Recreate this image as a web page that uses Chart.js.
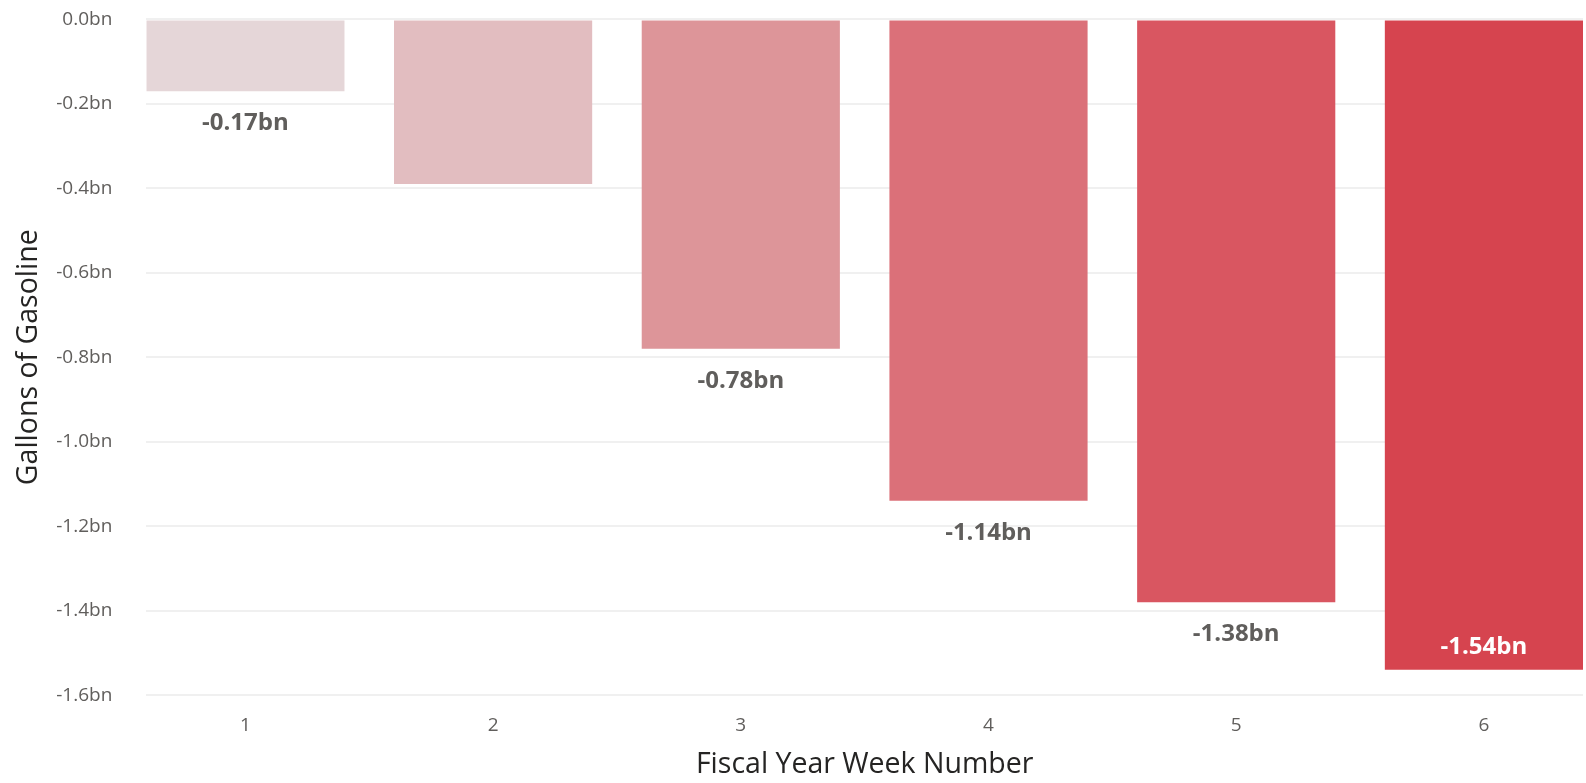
<!DOCTYPE html>
<html>
<head>
<meta charset="utf-8">
<script src="https://cdn.jsdelivr.net/npm/chart.js@4"></script>
<style>
  html, body { margin: 0; padding: 0; background: #fff; }
  #wrap { width: 1586px; height: 783px; position: relative; }
</style>
</head>
<body>
<div id="wrap"><canvas id="gasChart"></canvas></div>
<script>
var weekLabels = ['1', '2', '3', '4', '5', '6'];
var gallonsBn = [-0.17, -0.39, -0.78, -1.14, -1.38, -1.54];
var barColors = ['#E5D6D8', '#E2BDC0', '#DD9599', '#DB7079', '#D95661', '#D6444F'];
var valueLabels = ['-0.17bn', '', '-0.78bn', '-1.14bn', '-1.38bn', '-1.54bn'];
var labelInside = [false, false, false, false, false, true];
var yTicks = [0, -0.2, -0.4, -0.6, -0.8, -1.0, -1.2, -1.4, -1.6];

var fontFamily = "'Open Sans', 'Noto Sans', sans-serif";

// draws the bold value labels under (or inside) each bar
var valueLabelPlugin = {
  id: 'valueLabels',
  afterDatasetsDraw: function (chart) {
    var ctx = chart.ctx;
    var meta = chart.getDatasetMeta(0);
    ctx.save();
    ctx.font = 'bold 24px ' + fontFamily;
    ctx.textAlign = 'center';
    ctx.textBaseline = 'middle';
    meta.data.forEach(function (bar, i) {
      if (!valueLabels[i]) return;
      if (labelInside[i]) {
        ctx.fillStyle = '#FFFFFF';
        ctx.fillText(valueLabels[i], bar.x, bar.y - 23);
      } else {
        ctx.fillStyle = '#605E5C';
        ctx.fillText(valueLabels[i], bar.x, bar.y + 32);
      }
    });
    ctx.restore();
  }
};

var points = [];
for (let i = 0; i < weekLabels.length; i++) {
  points.push({ x: i + 1, y: gallonsBn[i] });
}

var ctx = document.getElementById('gasChart');
var chart = new Chart(ctx, {
  type: 'bar',
  data: {
    datasets: [{
      data: points,
      backgroundColor: barColors,
      borderWidth: 0,
      barPercentage: 0.8,
      categoryPercentage: 1.0
    }]
  },
  options: {
    responsive: true,
    maintainAspectRatio: false,
    animation: false,
    layout: { padding: { top: 0, right: 3, left: 12, bottom: 2 } },
    plugins: {
      legend: { display: false },
      tooltip: { enabled: false }
    },
    scales: {
      x: {
        type: 'linear',
        min: 0.6,
        max: 6.4,
        offset: false,
        grid: { display: false, drawTicks: false },
        border: { display: false },
        afterBuildTicks: function (scale) {
          scale.ticks = weekLabels.map(function (l, i) { return { value: i + 1 }; });
        },
        ticks: {
          color: '#605E5C',
          font: { family: fontFamily, size: 19 },
          padding: 19,
          callback: function (v) { return weekLabels[v - 1]; }
        },
        title: {
          display: true,
          text: 'Fiscal Year Week Number',
          color: '#252423',
          font: { family: fontFamily, size: 28.5, lineHeight: 0.6 },
          padding: { top: 0, bottom: 8 }
        }
      },
      y: {
        min: -1.6,
        max: 0,
        afterBuildTicks: function (scale) {
          scale.ticks = yTicks.map(function (v) { return { value: v }; });
        },
        grid: { color: '#F0F0F0', lineWidth: 2, drawTicks: true, tickLength: 26, tickColor: 'rgba(0,0,0,0)' },
        border: { display: false },
        ticks: {
          color: '#605E5C',
          font: { family: fontFamily, size: 19 },
          padding: 8,
          callback: function (v) { return v.toFixed(1) + 'bn'; }
        },
        title: {
          display: true,
          text: 'Gallons of Gasoline',
          color: '#252423',
          font: { family: fontFamily, size: 28.5 },
          padding: { top: 0, bottom: 2 }
        }
      }
    }
  },
  plugins: [valueLabelPlugin]
});
</script>
</body>
</html>
